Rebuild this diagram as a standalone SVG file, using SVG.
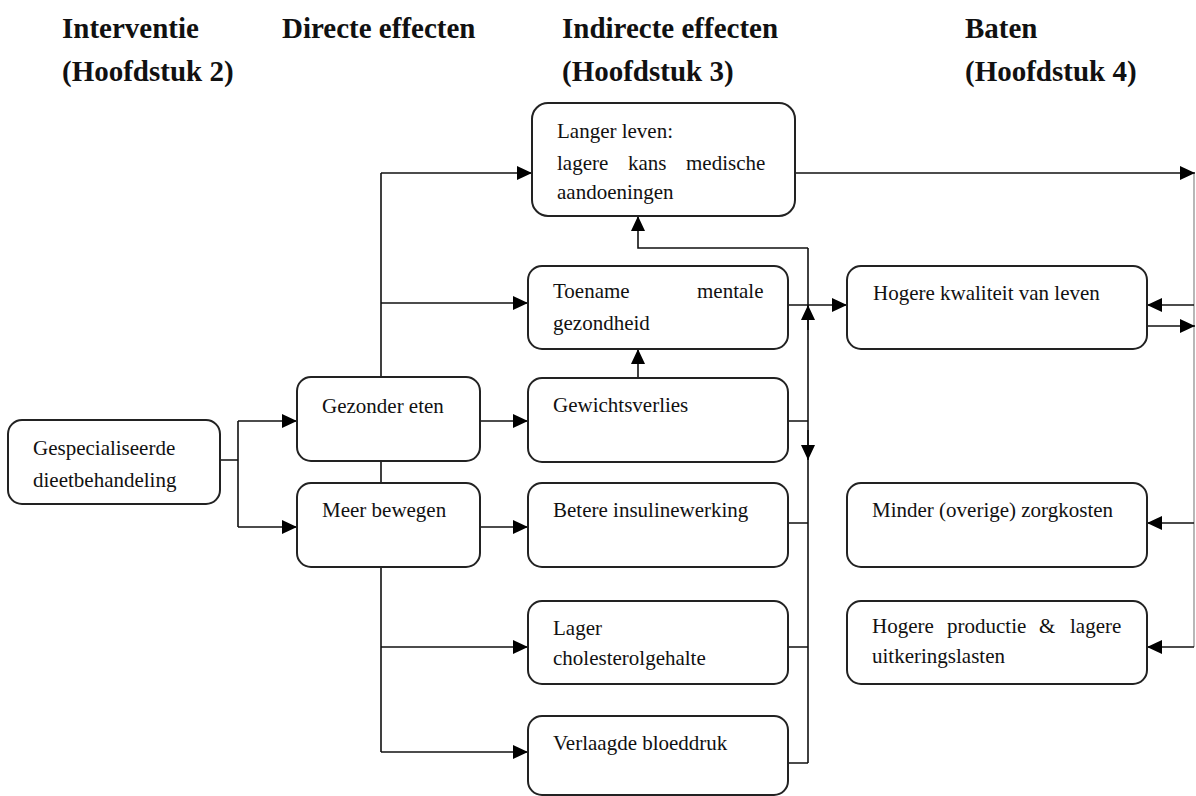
<svg xmlns="http://www.w3.org/2000/svg" width="1196" height="796" viewBox="0 0 1196 796">
<style>
.hd{font-family:"Liberation Serif",serif;font-size:29px;font-weight:bold;fill:#111}
.tx{font-family:"Liberation Serif",serif;font-size:21px;fill:#111}
.box{fill:#fff;stroke:#222;stroke-width:2}
.ln{fill:none;stroke:#111;stroke-width:1.6}
.gl{fill:none;stroke:#888;stroke-width:1.2}
</style>
<defs>
<marker id="arr" markerUnits="userSpaceOnUse" markerWidth="16" markerHeight="14" refX="15" refY="7" orient="auto">
<path d="M0,0 L15,7 L0,14 z" fill="#000"/>
</marker>
</defs>
<g id="headers">
<text class="hd" x="62" y="38">Interventie</text>
<text class="hd" x="62" y="81">(Hoofdstuk 2)</text>
<text class="hd" x="282" y="38">Directe effecten</text>
<text class="hd" x="562" y="38">Indirecte effecten</text>
<text class="hd" x="562" y="81">(Hoofdstuk 3)</text>
<text class="hd" x="965" y="38">Baten</text>
<text class="hd" x="965" y="81">(Hoofdstuk 4)</text>
</g>
<g id="connectors">
<path class="ln" d="M220,460 H238 M238,421 V527"/>
<path class="ln" d="M238,421 H297" marker-end="url(#arr)"/>
<path class="ln" d="M238,527 H297" marker-end="url(#arr)"/>
<path class="ln" d="M381,173 V377 M381,461 V483 M381,567 V752"/>
<path class="ln" d="M381,173 H532" marker-end="url(#arr)"/>
<path class="ln" d="M381,303 H528" marker-end="url(#arr)"/>
<path class="ln" d="M381,647 H528" marker-end="url(#arr)"/>
<path class="ln" d="M381,752 H528" marker-end="url(#arr)"/>
<path class="ln" d="M480,421 H528" marker-end="url(#arr)"/>
<path class="ln" d="M480,527 H528" marker-end="url(#arr)"/>
<path class="ln" d="M638,378 V349" marker-end="url(#arr)"/>
<path class="ln" d="M808,248 H638 V216" marker-end="url(#arr)"/>
<path class="ln" d="M808,248 V763"/>
<path class="ln" d="M808,330 V305" marker-end="url(#arr)"/>
<path class="ln" d="M808,430 V460" marker-end="url(#arr)"/>
<path class="ln" d="M788,305 H847" marker-end="url(#arr)"/>
<path class="ln" d="M788,421 H808 M788,523 H808 M788,647 H808 M788,763 H808"/>
<path class="ln" d="M795,173 H1195" marker-end="url(#arr)"/>
<path class="gl" d="M1194,174 V647"/>
<path class="ln" d="M1194,305 H1147" marker-end="url(#arr)"/>
<path class="ln" d="M1147,326 H1195" marker-end="url(#arr)"/>
<path class="ln" d="M1194,523 H1147" marker-end="url(#arr)"/>
<path class="ln" d="M1194,647 H1147" marker-end="url(#arr)"/>
</g>
<g id="n-dieet">
<rect class="box" x="8" y="420" width="212" height="84" rx="14"/>
<text class="tx" x="33" y="455">Gespecialiseerde</text>
<text class="tx" x="33" y="487">dieetbehandeling</text>
</g>
<g id="n-gezonder">
<rect class="box" x="297" y="377" width="183" height="84" rx="14"/>
<text class="tx" x="322" y="413">Gezonder eten</text>
</g>
<g id="n-bewegen">
<rect class="box" x="297" y="483" width="183" height="84" rx="14"/>
<text class="tx" x="322" y="517">Meer bewegen</text>
</g>
<g id="n-langer">
<rect class="box" x="532" y="103" width="263" height="113" rx="16"/>
<text class="tx" x="557" y="138">Langer leven:</text>
<text class="tx" y="170"><tspan x="557">lagere</tspan><tspan x="628">kans</tspan><tspan x="686">medische</tspan></text>
<text class="tx" x="557" y="199">aandoeningen</text>
</g>
<g id="n-toename">
<rect class="box" x="528" y="266" width="260" height="83" rx="14"/>
<text class="tx" y="298"><tspan x="553">Toename</tspan><tspan x="697">mentale</tspan></text>
<text class="tx" x="553" y="330">gezondheid</text>
</g>
<g id="n-gewicht">
<rect class="box" x="528" y="378" width="260" height="84" rx="14"/>
<text class="tx" x="553" y="412">Gewichtsverlies</text>
</g>
<g id="n-insuline">
<rect class="box" x="528" y="483" width="260" height="84" rx="14"/>
<text class="tx" x="553" y="517">Betere insulinewerking</text>
</g>
<g id="n-cholesterol">
<rect class="box" x="528" y="601" width="260" height="83" rx="14"/>
<text class="tx" x="553" y="635">Lager</text>
<text class="tx" x="553" y="665">cholesterolgehalte</text>
</g>
<g id="n-bloeddruk">
<rect class="box" x="528" y="716" width="260" height="79" rx="14"/>
<text class="tx" x="553" y="750">Verlaagde bloeddruk</text>
</g>
<g id="n-kwaliteit">
<rect class="box" x="847" y="266" width="300" height="83" rx="14"/>
<text class="tx" x="873" y="300">Hogere kwaliteit van leven</text>
</g>
<g id="n-zorgkosten">
<rect class="box" x="847" y="483" width="300" height="84" rx="14"/>
<text class="tx" x="872" y="517">Minder (overige) zorgkosten</text>
</g>
<g id="n-productie">
<rect class="box" x="847" y="601" width="300" height="83" rx="14"/>
<text class="tx" y="633"><tspan x="872">Hogere</tspan><tspan x="947">productie</tspan><tspan x="1039">&amp;</tspan><tspan x="1070">lagere</tspan></text>
<text class="tx" x="872" y="663">uitkeringslasten</text>
</g>
</svg>
